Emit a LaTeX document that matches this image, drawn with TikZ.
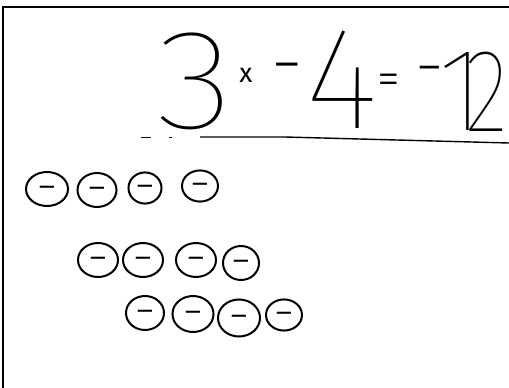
\documentclass[tikz,border=0pt]{standalone}
\usepackage{fontspec}
\newfontfamily\handthin{Fira Sans Thin}
\newfontfamily\handlight{Fira Sans Light}
\newfontfamily\handreg{Fira Sans}
\usetikzlibrary{shapes.geometric}
\tikzset{
  glyph/.style={inner sep=0pt, outer sep=0pt, text=black},
  sign/.style={glyph, font=\handlight\fontsize{60}{60}\selectfont,
    text height=33pt, text depth=0pt},
  ball/.style={ellipse, draw=black, line width=2pt, inner sep=0pt,
    text height=22pt, text depth=0pt,
    font=\handlight\fontsize{40}{40}\selectfont},
  frame/.style={line width=1.5pt, draw=black},
  rule/.style={line width=1.4pt, draw=black}
}
\begin{document}
\begin{tikzpicture}[x=1pt,y=-1pt]
\useasboundingbox (0,0) rectangle (509,388);
\fill[white] (0,0) rectangle (509,388);
% frame of the sheet
\coordinate (fbl) at (3,388);
\coordinate (ftl) at (3,7);
\coordinate (ftr) at (509,7);
\draw[frame] (fbl) -- (ftl) -- (ftr);
% equation
\node[glyph, font=\handthin\fontsize{142}{142}\selectfont] (three) at (195,81) {\scalebox{1.15}[1]{3}};
\node[glyph, font=\handreg\fontsize{27}{27}\selectfont] (times) at (246,75) {x};
\node[sign] (minA) at (287,68) {−};
\node[glyph, font=\handthin\fontsize{145}{145}\selectfont] (four) at (336,80) {\kern-0.04em4\kern-0.12em};
\node[sign, font=\handlight\fontsize{46}{46}\selectfont, text height=25.5pt] (eq) at (389,82) {\kern-0.08em=\kern-0.08em};
\node[sign, font=\handlight\fontsize{54}{54}\selectfont, text height=30pt] (minB) at (430,70) {−};
\node[glyph, font=\handthin\fontsize{118}{118}\selectfont, anchor=west] (one) at (438,92) {1};
\node[glyph, font=\handthin\fontsize{118}{118}\selectfont, anchor=east] (two) at (508,92) {\scalebox{0.78}[1]{2}};
% underline
\coordinate (u0) at (200,137);
\coordinate (u1) at (285,137);
\coordinate (u2) at (509,143);
\draw[rule] (u0) -- (u1) -- (u2);
\coordinate (d0) at (141,137);
\coordinate (d1) at (151,137);
\coordinate (d2) at (169,137);
\coordinate (d3) at (172,137);
\draw[line width=1pt] (d0) -- (d1);
\draw[line width=1pt] (d2) -- (d3);
% row 1
\node[ball, minimum width=42pt, minimum height=34pt] (c1) at (47,189) {−};
\node[ball, minimum width=39pt, minimum height=34pt] (c2) at (97,190) {−};
\node[ball, minimum width=33pt, minimum height=30pt] (c3) at (145,188) {−};
\node[ball, minimum width=36pt, minimum height=28pt] (c4) at (200,186) {−};
% row 2
\node[ball, minimum width=40pt, minimum height=34pt] (c5) at (98,260) {−};
\node[ball, minimum width=40pt, minimum height=34pt] (c6) at (143,260) {−};
\node[ball, minimum width=40pt, minimum height=34pt] (c7) at (196,260) {−};
\node[ball, minimum width=36pt, minimum height=34pt] (c8) at (241,263) {−};
% row 3
\node[ball, minimum width=38pt, minimum height=34pt] (c9) at (145,313) {−};
\node[ball, minimum width=41pt, minimum height=36pt] (c10) at (193,314) {−};
\node[ball, minimum width=42pt, minimum height=37pt] (c11) at (239,318) {−};
\node[ball, minimum width=36pt, minimum height=30pt] (c12) at (284,315) {−};
\end{tikzpicture}
\end{document}
